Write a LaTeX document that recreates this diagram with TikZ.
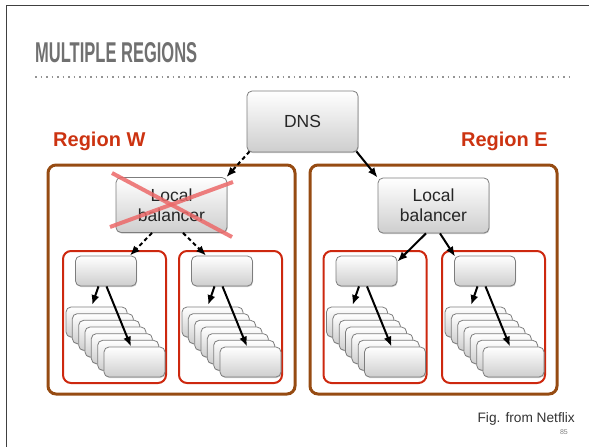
\documentclass[tikz,border=0pt]{standalone}
\usepackage{fontspec}
\setmainfont{Liberation Sans}
\usetikzlibrary{arrows.meta,shadows}
\definecolor{brownc}{RGB}{150,75,18}
\definecolor{redc}{RGB}{205,40,15}
\definecolor{regtxt}{RGB}{204,51,17}
\definecolor{boxline}{RGB}{125,125,125}
\definecolor{boxbot}{RGB}{206,206,206}
\definecolor{crossc}{RGB}{236,105,105}
\definecolor{titlec}{RGB}{112,112,112}
\tikzset{
 gbox/.style={draw=boxline, line width=0.8pt, rounded corners=5pt, top color=white, bottom color=boxbot,
   inner sep=0pt, text=black!85, font=\fontsize{17.5}{20}\selectfont, align=center,
   drop shadow={shadow xshift=0.6pt,shadow yshift=-1pt,opacity=0.4,fill=black!50}},
 regionbox/.style={draw=brownc, line width=3pt, rounded corners=8pt, minimum width=247pt, minimum height=229pt, inner sep=0pt},
 zonebox/.style={draw=redc, line width=2pt, rounded corners=8pt, minimum width=103pt, minimum height=132pt, inner sep=0pt},
 smallbox/.style={gbox, minimum width=61pt, minimum height=30pt},
 arr/.style={-{Latex[length=10pt,width=8pt]}, line width=2pt, black},
 darr/.style={arr, dash pattern=on 4pt off 3pt},
 regionlabel/.style={font=\bfseries\fontsize{20}{24}\selectfont, text=regtxt, inner sep=0pt},
}
\begin{document}
\begin{tikzpicture}[x=1pt,y=-1pt]
\useasboundingbox (0,0) rectangle (589,447);
% slide frame
\draw[line width=1.5pt, black!75] (6.5,447) -- (6.5,5.5) -- (589,5.5);
% title
\node[anchor=north west, inner sep=0pt, text=titlec] (title) at (35,42) {\resizebox{162pt}{20pt}{\bfseries MULTIPLE REGIONS}};
\draw[titlec!75, line width=1.6pt, dash pattern=on 1.6pt off 3.9pt] (35,77) -- (570,77);
% region boxes
\node[regionbox] (regW) at (171.5,279.5) {};
\node[regionbox] (regE) at (433.5,279.5) {};
\node[regionlabel, anchor=base west] (rw) at (53,146) {Region W};
\node[regionlabel, anchor=base east] (re) at (548,146) {Region E};
% DNS and balancers
\node[gbox, minimum width=111pt, minimum height=61pt] (dns) at (302.5,121.5) {DNS};
\node[gbox, minimum width=111pt, minimum height=55pt] (lbW) at (171.5,205) {Local\\balancer};
\node[gbox, minimum width=111pt, minimum height=55pt] (lbE) at (433.5,205.5) {Local\\balancer};
% zones
\foreach \nm/\cx in {W1/114.5, W2/230.5, E1/375, E2/493.5}{
  \node[zonebox] (z\nm) at (\cx,317) {};
  \node[smallbox] (t\nm) at (\cx-8.5,271) {};
  \foreach \i in {0,...,6}{
    \node[smallbox] (s\nm-\i) at ({\cx-18+\i*6.333},{322+\i*6.667}) {};
  }
  \draw[arr] ([xshift=-7.5pt]t\nm.south) -- ([xshift=-4.5pt,yshift=1.5pt]s\nm-0.north);
  \draw[arr] ([xshift=0.5pt]t\nm.south) -- ([xshift=-3.5pt]s\nm-6.north);
}
% DNS arrows
\draw[darr] ([xshift=3pt,yshift=1pt]dns.south west) -- ([xshift=-1pt]lbW.north east);
\draw[arr] ([xshift=-2pt,yshift=1pt]dns.south east) -- (lbE.north west);
% balancer arrows
\draw[darr] ([xshift=-19.5pt]lbW.south) -- ([xshift=-7pt]tW1.north east);
\draw[darr] ([xshift=11.5pt]lbW.south) -- ([xshift=15pt]tW2.north west);
\draw[arr] ([xshift=-7.5pt]lbE.south) -- ([yshift=-6pt]tE1.north east);
\draw[arr] ([xshift=6.5pt]lbE.south) -- ([xshift=1pt,yshift=-1pt]tE2.north west);
% failure cross
\draw[crossc, line width=4pt, opacity=0.85] (112,173) -- (232,237);
\draw[crossc, line width=4pt, opacity=0.85] (110,227) -- (233,182);
% footer
\node[anchor=base east, inner sep=0pt, text=black!80, font=\fontsize{13.7}{16}\selectfont] (fig) at (575,422) {Fig. from Netflix};
\node[anchor=base east, inner sep=0pt, text=black!50, font=\fontsize{7}{8}\selectfont] (pg) at (568,434) {85};
\end{tikzpicture}
\end{document}
